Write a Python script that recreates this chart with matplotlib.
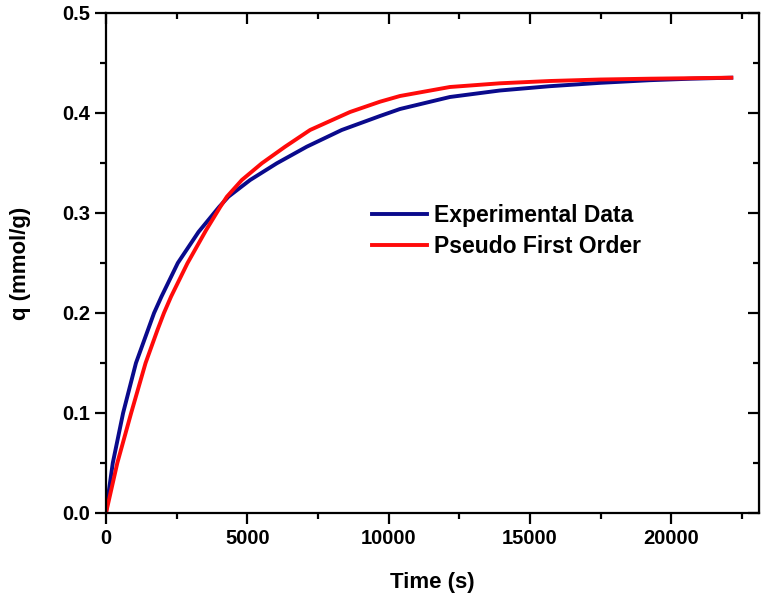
import numpy as np
import matplotlib
matplotlib.use('Agg')
import matplotlib.pyplot as plt
from matplotlib.ticker import MultipleLocator

plt.rcParams['font.family'] = ['Liberation Sans', 'DejaVu Sans']
plt.rcParams['font.weight'] = 'bold'

t_exp = [0, 115, 240, 605, 1060, 1700, 1960, 2540, 3272, 4000, 4330, 5099,
         6042, 7102, 8339, 9693, 10400, 12166, 13933, 15700, 17500, 19233, 20700, 22120]
q_exp = [0, 0.025, 0.05, 0.10, 0.15, 0.20, 0.2163, 0.25, 0.281, 0.306, 0.3163,
         0.333, 0.3497, 0.3663, 0.383, 0.397, 0.404, 0.416, 0.4225, 0.4268, 0.4302,
         0.4328, 0.4343, 0.4353]

# Pseudo first order fit
t_pfo = [0, 200, 400, 890, 1400, 1820, 2050, 2300, 2880, 3544, 4040, 4276, 4806,
         5512, 6336, 7219, 8633, 9693, 10400, 12166, 13933, 15700, 17500, 19233, 22120]
q_pfo = [0, 0.025, 0.05, 0.10, 0.15, 0.183, 0.20, 0.2163, 0.2497, 0.283, 0.306, 0.3163,
         0.333, 0.3497, 0.3663, 0.383, 0.401, 0.4113, 0.417, 0.426, 0.4297, 0.432,
         0.4335, 0.4343, 0.4353]

fig = plt.figure(figsize=(7.62, 5.99), dpi=100)
ax = fig.add_axes([106/762, 1 - 513/599, (759-106)/762, 500/599])

ax.plot(t_exp, q_exp, color='#0a0a8c', lw=2.8, label='Experimental Data')
ax.plot(t_pfo, q_pfo, color='#ff0a0a', lw=2.8, label='Pseudo First Order')

ax.set_xlim(0, 23100)
ax.set_ylim(0, 0.5)
ax.xaxis.set_major_locator(MultipleLocator(5000))
ax.xaxis.set_minor_locator(MultipleLocator(2500))
ax.yaxis.set_major_locator(MultipleLocator(0.1))
ax.yaxis.set_minor_locator(MultipleLocator(0.05))
ax.yaxis.set_major_formatter(plt.FuncFormatter(lambda v, p: f'{v:.1f}'))

for s in ax.spines.values():
    s.set_linewidth(1.6)
ax.tick_params(which='major', direction='out', length=8, width=1.6, labelsize=14.5)
ax.tick_params(which='minor', direction='out', length=4.5, width=1.6)

# mirrored ticks on top and right, pointing inward
top = ax.secondary_xaxis('top')
top.xaxis.set_major_locator(MultipleLocator(5000))
top.xaxis.set_minor_locator(MultipleLocator(2500))
top.tick_params(which='both', direction='in', labeltop=False, width=1.6)
top.tick_params(which='major', length=8)
top.tick_params(which='minor', length=4.5)
right = ax.secondary_yaxis('right')
right.yaxis.set_major_locator(MultipleLocator(0.1))
right.yaxis.set_minor_locator(MultipleLocator(0.05))
right.tick_params(which='both', direction='in', labelright=False, width=1.6)
right.tick_params(which='major', length=8)
right.tick_params(which='minor', length=4.5)

ax.set_xlabel('Time (s)', fontsize=16, fontweight='bold', labelpad=17)
ax.set_ylabel('q (mmol/g)', fontsize=16, fontweight='bold', labelpad=22)

ax.legend(loc='center left', bbox_to_anchor=(0.39, 0.564), frameon=False,
          fontsize=16.5, borderpad=0, handlelength=2.4, handletextpad=0.3,
          labelspacing=0.35)

fig.savefig('out.png', dpi=100)
